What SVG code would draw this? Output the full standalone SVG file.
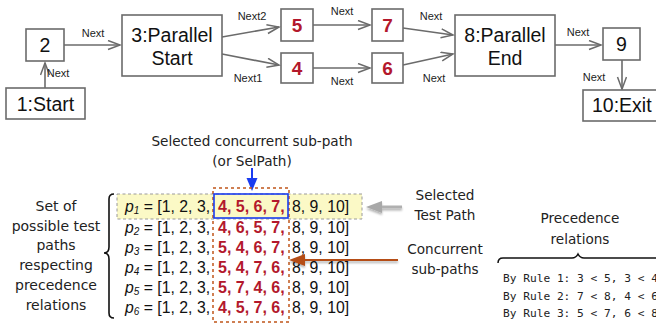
<svg xmlns="http://www.w3.org/2000/svg" width="656" height="325" viewBox="0 0 656 325">
<defs>
<marker id="open" markerUnits="userSpaceOnUse" markerWidth="16" markerHeight="12" refX="13" refY="5" orient="auto">
<path d="M1,0.5 L13,5 L1,9.5" fill="none" stroke="#6b6b6b" stroke-width="1.5"/>
</marker>
<filter id="sh" x="-20%" y="-50%" width="140%" height="200%">
<feDropShadow dx="0" dy="2" stdDeviation="1.2" flood-color="#000" flood-opacity="0.3"/>
</filter>
</defs>
<style>
.box{fill:#fff;stroke:#6b6b6b;stroke-width:1.6}
.nt{font-family:"Liberation Sans",Arial,sans-serif;font-size:19.5px;fill:#111;text-anchor:middle}
.rn{font-family:"Liberation Sans",Arial,sans-serif;font-size:19px;font-weight:bold;fill:#b3182c;text-anchor:middle}
.lbl{font-family:"Liberation Sans",Arial,sans-serif;font-size:11px;fill:#222;text-anchor:middle}
.edge{stroke:#6b6b6b;stroke-width:1.6;fill:none;marker-end:url(#open)}
.gv{font-family:"DejaVu Sans",Verdana,sans-serif;font-size:13.6px;fill:#222;text-anchor:middle}
.row{font-family:"Liberation Sans",Arial,sans-serif;font-size:15.8px;fill:#111}
.red{font-family:"Liberation Sans",Arial,sans-serif;font-size:16px;font-weight:bold;fill:#b3182c}
.mono{font-family:"DejaVu Sans Mono","Liberation Mono",monospace;font-size:11.2px;fill:#222}
</style>
<g id="connectors">
<line class="edge" x1="45" y1="88" x2="45" y2="63"/>
<line class="edge" x1="64" y1="45" x2="120" y2="45"/>
<line class="edge" x1="222" y1="37" x2="279" y2="27"/>
<line class="edge" x1="222" y1="54" x2="279" y2="65"/>
<line class="edge" x1="313" y1="25" x2="370" y2="25"/>
<line class="edge" x1="313" y1="68" x2="370" y2="68"/>
<line class="edge" x1="403" y1="28" x2="453" y2="35"/>
<line class="edge" x1="403" y1="65" x2="453" y2="54"/>
<line class="edge" x1="555" y1="45" x2="601" y2="45"/>
<line class="edge" x1="622" y1="60" x2="622" y2="89"/>
<text class="lbl" x="58" y="77">Next</text>
<text class="lbl" x="93" y="37">Next</text>
<text class="lbl" x="252" y="20">Next2</text>
<text class="lbl" x="248" y="82">Next1</text>
<text class="lbl" x="342" y="15">Next</text>
<text class="lbl" x="342" y="85">Next</text>
<text class="lbl" x="431" y="20">Next</text>
<text class="lbl" x="434" y="82">Next</text>
<text class="lbl" x="578" y="36">Next</text>
<text class="lbl" x="594" y="81">Next</text>
</g>
<g id="n1"><rect class="box" x="6" y="88" width="79" height="31"/><text class="nt" x="45.5" y="110.5">1:Start</text></g>
<g id="n2"><rect class="box" x="26" y="29" width="38" height="32"/><text class="nt" x="45" y="52">2</text></g>
<g id="n3"><rect class="box" x="122" y="15" width="100" height="61"/><text class="nt" x="172" y="42">3:Parallel</text><text class="nt" x="172" y="65">Start</text></g>
<g id="n5"><rect class="box" x="281" y="9" width="32" height="32"/><text class="rn" x="297" y="32">5</text></g>
<g id="n4"><rect class="box" x="281" y="53" width="32" height="30"/><text class="rn" x="297" y="75">4</text></g>
<g id="n7"><rect class="box" x="372" y="9" width="31" height="32"/><text class="rn" x="387.5" y="32">7</text></g>
<g id="n6"><rect class="box" x="372" y="53" width="31" height="30"/><text class="rn" x="387.5" y="75">6</text></g>
<g id="n8"><rect class="box" x="455" y="15" width="100" height="61"/><text class="nt" x="505" y="42">8:Parallel</text><text class="nt" x="505" y="65">End</text></g>
<g id="n9"><rect class="box" x="603" y="28" width="37" height="32"/><text class="nt" x="621.5" y="51">9</text></g>
<g id="n10"><rect class="box" x="583" y="90" width="85" height="31"/><text class="nt" x="592" y="112" style="text-anchor:start">10:Exit</text></g>

<g id="bottom">
<text class="gv" x="252" y="146">Selected concurrent sub-path</text>
<text class="gv" x="252" y="166">(or SelPath)</text>
<line x1="252" y1="168" x2="252" y2="180" stroke="#1a3cf0" stroke-width="2"/>
<polygon points="246.5,178 257.5,178 252,191" fill="#1a3cf0"/>
<rect x="117" y="194" width="245" height="25" fill="#fbf9c6" stroke="#9a9a9a" stroke-width="1" stroke-dasharray="3,2.5"/>
<rect x="213" y="188" width="76" height="134" fill="none" stroke="#c0561a" stroke-width="1.5" stroke-dasharray="3,3"/>
<rect x="214" y="194" width="74" height="24" fill="none" stroke="#1a3cf0" stroke-width="1.6"/>
<path d="M114,194 q-5,0 -5,5 v48 q0,6 -5,6 q5,0 5,6 v54 q0,5 5,5" fill="none" stroke="#111" stroke-width="1.6"/>
<g class="gv" style="font-size:14px">
<text x="56" y="211">Set of</text>
<text x="56" y="231">possible test</text>
<text x="56" y="250">paths</text>
<text x="56" y="270">respecting</text>
<text x="56" y="290">precedence</text>
<text x="56" y="310">relations</text>
</g>
<g id="rows">
<text class="row" x="125" y="212"><tspan font-style="italic">p</tspan><tspan font-style="italic" font-size="10" dy="2">1</tspan><tspan dy="-2"> = [1, 2, 3,</tspan></text>
<text class="red" x="218" y="212">4, 5, 6, 7,</text>
<text class="row" x="292" y="212">8, 9, 10]</text>
<text class="row" x="125" y="233"><tspan font-style="italic">p</tspan><tspan font-style="italic" font-size="10" dy="2">2</tspan><tspan dy="-2"> = [1, 2, 3,</tspan></text>
<text class="red" x="218" y="233">4, 6, 5, 7,</text>
<text class="row" x="292" y="233">8, 9, 10]</text>
<text class="row" x="125" y="253"><tspan font-style="italic">p</tspan><tspan font-style="italic" font-size="10" dy="2">3</tspan><tspan dy="-2"> = [1, 2, 3,</tspan></text>
<text class="red" x="218" y="253">5, 4, 6, 7,</text>
<text class="row" x="292" y="253">8, 9, 10]</text>
<text class="row" x="125" y="273"><tspan font-style="italic">p</tspan><tspan font-style="italic" font-size="10" dy="2">4</tspan><tspan dy="-2"> = [1, 2, 3,</tspan></text>
<text class="red" x="218" y="273">5, 4, 7, 6,</text>
<text class="row" x="292" y="273">8, 9, 10]</text>
<text class="row" x="125" y="293"><tspan font-style="italic">p</tspan><tspan font-style="italic" font-size="10" dy="2">5</tspan><tspan dy="-2"> = [1, 2, 3,</tspan></text>
<text class="red" x="218" y="293">5, 7, 4, 6,</text>
<text class="row" x="292" y="293">8, 9, 10]</text>
<text class="row" x="125" y="313"><tspan font-style="italic">p</tspan><tspan font-style="italic" font-size="10" dy="2">6</tspan><tspan dy="-2"> = [1, 2, 3,</tspan></text>
<text class="red" x="218" y="313">4, 5, 7, 6,</text>
<text class="row" x="292" y="313">8, 9, 10]</text>
</g>
<g filter="url(#sh)">
<line x1="402" y1="207" x2="380" y2="207" stroke="#b0b0b0" stroke-width="3"/>
<polygon points="366,207 382,201 382,213" fill="#a8a8a8"/>
</g>
<g filter="url(#sh)">
<line x1="398" y1="260" x2="302" y2="260" stroke="#b54d14" stroke-width="2"/>
<polygon points="289,260 305,254 305,266" fill="#b54d14"/>
</g>
<text class="gv" x="445" y="200">Selected</text>
<text class="gv" x="445" y="220">Test Path</text>
<text class="gv" x="445" y="254">Concurrent</text>
<text class="gv" x="445" y="274">sub-paths</text>
<text class="gv" x="580" y="223">Precedence</text>
<text class="gv" x="580" y="244">relations</text>
<path d="M498,263 q0,-5 5,-5 h69 q4,0 6,-4 q2,4 6,4 h80" fill="none" stroke="#111" stroke-width="1.5"/>
<text class="mono" x="503" y="282">By Rule 1: 3 &lt; 5, 3 &lt; 4</text>
<text class="mono" x="503" y="300">By Rule 2: 7 &lt; 8, 4 &lt; 6</text>
<text class="mono" x="503" y="317">By Rule 3: 5 &lt; 7, 6 &lt; 8</text>
</g>
</svg>
